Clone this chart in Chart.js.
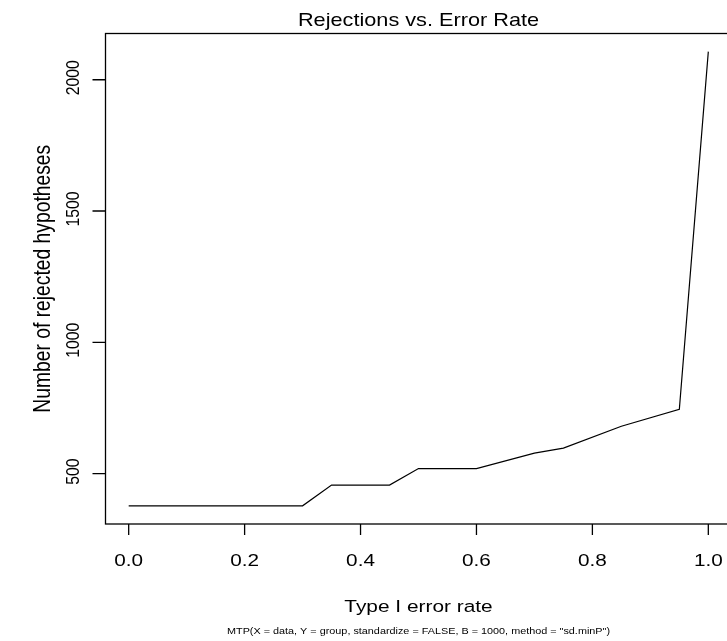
<!DOCTYPE html>
<html>
<head>
<meta charset="utf-8">
<script src="https://cdn.jsdelivr.net/npm/chart.js@4"></script>
<style>
  html, body { margin: 0; padding: 0; background: #fff; overflow: hidden; }
  #wrap { width: 727px; height: 641px; overflow: hidden; position: relative; }
  canvas { display: block; }
</style>
</head>
<body>
<div id="wrap"><canvas id="c" width="745" height="641"></canvas></div>
<script>
// ---- data ----
const errorRates = [0, 0.3, 0.35, 0.45, 0.5, 0.6, 0.7, 0.75, 0.85, 0.95, 1.0];
const rejections = [377, 377, 456, 456, 519, 519, 578, 597, 680, 745, 2107];
const xTickValues = [0, 0.2, 0.4, 0.6, 0.8, 1.0];
const xTickLabels = ["0.0", "0.2", "0.4", "0.6", "0.8", "1.0"];
const yTickValues = [500, 1000, 1500, 2000];
const yTickLabels = ["500", "1000", "1500", "2000"];
const chartTitle = "Rejections vs. Error Rate";
const xAxisTitle = "Type I error rate";
const yAxisTitle = "Number of rejected hypotheses";
const subTitle = 'MTP(X = data, Y = group, standardize = FALSE, B = 1000, method = "sd.minP")';

// R-style 4% axis extension
function rng(arr) {
  const lo = Math.min(...arr), hi = Math.max(...arr), d = (hi - lo) * 0.04;
  return [lo - d, hi + d];
}
const [xMin, xMax] = rng(errorRates);
const [yMin, yMax] = rng(rejections);

const FONT = '"Liberation Sans", Arial, Helvetica, sans-serif';
const SX = 1.22;

function drawText(ctx, s, x, y, px, rotated, targetLen) {
  ctx.save();
  ctx.font = px + 'px ' + FONT;
  let sAlong = 1;
  if (targetLen) {
    const w = ctx.measureText(s).width;
    sAlong = targetLen / w;
  }
  ctx.translate(x, y);
  if (rotated) {
    ctx.scale(SX, sAlong);
    ctx.rotate(-Math.PI / 2);
  } else {
    ctx.scale(targetLen ? sAlong : SX, 1);
  }
  ctx.textAlign = 'center';
  ctx.textBaseline = 'alphabetic';
  ctx.fillStyle = '#000';
  ctx.fillText(s, 0, px * 0.358);
  ctx.restore();
}

const rAxes = {
  id: 'rAxes',
  afterDraw(chart) {
    const ctx = chart.ctx;
    const a = chart.chartArea;
    const xs = chart.scales.x, ys = chart.scales.y;
    ctx.save();
    ctx.strokeStyle = '#000';
    ctx.lineWidth = 1.3;
    ctx.strokeRect(a.left, a.top, a.right - a.left, a.bottom - a.top);
    ctx.beginPath();
    xTickValues.forEach(v => {
      const px = xs.getPixelForValue(v);
      ctx.moveTo(px, a.bottom);
      ctx.lineTo(px, a.bottom + 11);
    });
    yTickValues.forEach(v => {
      const py = ys.getPixelForValue(v);
      ctx.moveTo(a.left, py);
      ctx.lineTo(a.left - 13, py);
    });
    ctx.stroke();
    ctx.restore();

    xTickValues.forEach((v, i) => {
      drawText(ctx, xTickLabels[i], xs.getPixelForValue(v), 560, 17, false);
    });
    yTickValues.forEach((v, i) => {
      drawText(ctx, yTickLabels[i], 71.7, ys.getPixelForValue(v) - 2, 15.8, true);
    });
    const cx = (a.left + a.right) / 2;
    const cy = (a.top + a.bottom) / 2;
    drawText(ctx, chartTitle, cx, 20, 17.8, false);
    drawText(ctx, xAxisTitle, cx, 606, 17.1, false);
    drawText(ctx, subTitle, cx, 631, 9.5, false, 383);
    drawText(ctx, yAxisTitle, 41.5, cy, 19.3, true);
  }
};

new Chart(document.getElementById('c'), {
  type: 'line',
  data: {
    datasets: [{
      data: errorRates.map((x, i) => ({ x: x, y: rejections[i] })),
      borderColor: '#000',
      borderWidth: 1.2,
      pointRadius: 0,
      tension: 0,
      fill: false
    }]
  },
  options: {
    responsive: false,
    animation: false,
    devicePixelRatio: 1,
    layout: { padding: { left: 105.5, top: 33.5, right: 13.5, bottom: 117 } },
    plugins: { legend: { display: false }, tooltip: { enabled: false }, title: { display: false } },
    scales: {
      x: { type: 'linear', min: xMin, max: xMax, display: false },
      y: { type: 'linear', min: yMin, max: yMax, display: false }
    }
  },
  plugins: [rAxes]
});
</script>
</body>
</html>
